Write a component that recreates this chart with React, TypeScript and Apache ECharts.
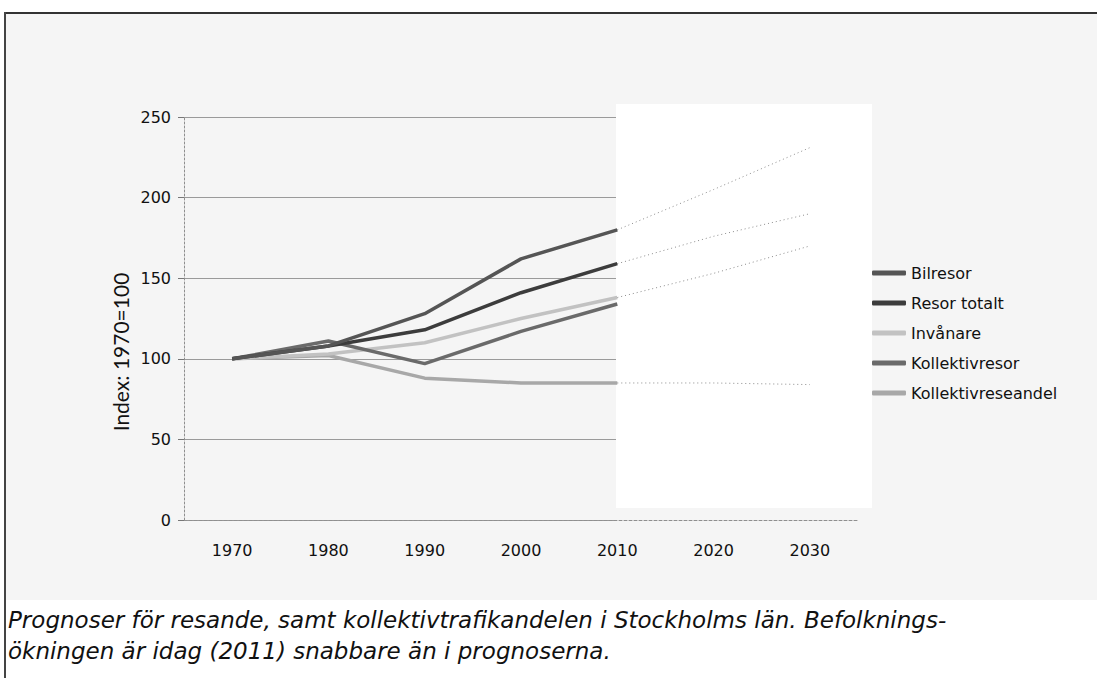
import React, { useEffect, useRef } from "react";
import * as echarts from "echarts";

const years = ["1970", "1980", "1990", "2000", "2010", "2020", "2030"];
const bilresor = [100, 108, 128, 162, 180, null, null];
const resorTotalt = [100, 108, 118, 141, 159, null, null];
const invanare = [100, 103, 110, 125, 138, null, null];
const kollektivresor = [100, 111, 97, 117, 134, null, null];
const kollektivreseandel = [100, 102, 88, 85, 85, null, null];
const bilresorPrognos = [null, null, null, null, 180, 205, 231];
const resorTotaltPrognos = [null, null, null, null, 159, 176, 190];
const invanarePrognos = [null, null, null, null, 138, 153, 170];
const andelPrognos = [null, null, null, null, 85, 85, 84];
const yTicks = { min: 0, max: 250, interval: 50 };
const yName = "Index: 1970=100";
const caption1 = "Prognoser för resande, samt kollektivtrafikandelen i Stockholms län. Befolknings-";
const caption2 = "ökningen är idag (2011) snabbare än i prognoserna.";

const FONT = "DejaVu Sans";

export default function App() {
  const ref = useRef<HTMLDivElement>(null);
  useEffect(() => {
    if (!ref.current) return;
    const chart = echarts.init(ref.current, undefined, { renderer: "svg" });
    const solid = (name: string, data: (number | null)[], color: string) => ({
      name,
      type: "line",
      xAxisIndex: 0,
      yAxisIndex: 0,
      data,
      showSymbol: false,
      symbol: "none",
      lineStyle: { color, width: 3.5 },
      itemStyle: { color },
      z: 3,
    });
    const prog = (data: (number | null)[]) => ({
      type: "line",
      xAxisIndex: 0,
      yAxisIndex: 0,
      data,
      showSymbol: false,
      symbol: "none",
      lineStyle: { color: "#8c8c8c", width: 1, type: [1, 3] },
      z: 2,
      silent: true,
    });
    const captionStyle = {
      fontFamily: FONT,
      fontStyle: "italic",
      fontSize: 23,
      fill: "#111",
      textAlign: "left",
      textVerticalAlign: "middle",
    };
    chart.setOption({
      animation: false,
      backgroundColor: "transparent",
      grid: [
        { left: 184, top: 117, width: 674, height: 403 },
        { left: 184, top: 117, width: 432, height: 403 },
      ],
      xAxis: [
        {
          gridIndex: 0,
          type: "category",
          data: years,
          boundaryGap: true,
          axisLine: { lineStyle: { color: "#8f8f8f", width: 1, type: [3, 2] } },
          axisTick: { alignWithLabel: true, length: 5, lineStyle: { color: "#777" } },
          axisLabel: { margin: 22, fontFamily: FONT, fontSize: 16, color: "#111" },
          splitLine: { show: false },
        },
        { gridIndex: 1, type: "value", min: 0, max: 1, show: false },
      ],
      yAxis: [
        {
          gridIndex: 0,
          type: "value",
          ...yTicks,
          axisLine: { show: true, lineStyle: { color: "#8f8f8f", width: 1, type: [2, 2] } },
          axisTick: { show: true, length: 6, lineStyle: { color: "#777" } },
          axisLabel: { margin: 13, fontFamily: FONT, fontSize: 16, color: "#111" },
          splitLine: { show: false },
        },
        {
          gridIndex: 1,
          type: "value",
          ...yTicks,
          axisLine: { show: false },
          axisTick: { show: false },
          axisLabel: { show: false },
          splitLine: { show: true, lineStyle: { color: "#9a9a9a", width: 1 } },
        },
      ],
      legend: {
        orient: "vertical",
        left: 867,
        top: 259,
        icon: "roundRect",
        itemWidth: 34,
        itemHeight: 5,
        itemGap: 12,
        textStyle: { fontFamily: FONT, fontSize: 16, color: "#111", lineHeight: 18 },
        data: ["Bilresor", "Resor totalt", "Invånare", "Kollektivresor", "Kollektivreseandel"],
      },
      series: [
        prog(bilresorPrognos),
        prog(resorTotaltPrognos),
        prog(invanarePrognos),
        prog(andelPrognos),
        solid("Kollektivreseandel", kollektivreseandel, "#a8a8a8"),
        solid("Invånare", invanare, "#c2c2c2"),
        solid("Kollektivresor", kollektivresor, "#6a6a6a"),
        solid("Resor totalt", resorTotalt, "#3c3c3c"),
        solid("Bilresor", bilresor, "#555555"),
      ],
      graphic: [
        {
          type: "text",
          x: 120,
          y: 352,
          rotation: Math.PI / 2,
          style: {
            text: yName,
            fontFamily: "Lato",
            fontSize: 21,
            fill: "#111",
            textAlign: "center",
            textVerticalAlign: "middle",
          },
        },
        { type: "text", x: 8, y: 620, style: { ...captionStyle, text: caption1 } },
        { type: "text", x: 8, y: 651, style: { ...captionStyle, text: caption2 } },
      ],
    });
    return () => chart.dispose();
  }, []);

  return (
    <div style={{ position: "absolute", left: 0, top: 0, width: 1097, height: 678, background: "#fff", overflow: "hidden" }}>
      <div style={{ position: "absolute", left: 5, top: 13, width: 1092, height: 587, background: "#f5f5f5" }} />
      <div style={{ position: "absolute", left: 616, top: 104, width: 256, height: 404, background: "#fff" }} />
      <div style={{ position: "absolute", left: 5, top: 12, width: 1092, height: 2, background: "#333" }} />
      <div style={{ position: "absolute", left: 4, top: 12, width: 2, height: 666, background: "#444" }} />
      <div ref={ref} style={{ position: "absolute", left: 0, top: 0, width: 1097, height: 678 }} />
    </div>
  );
}
